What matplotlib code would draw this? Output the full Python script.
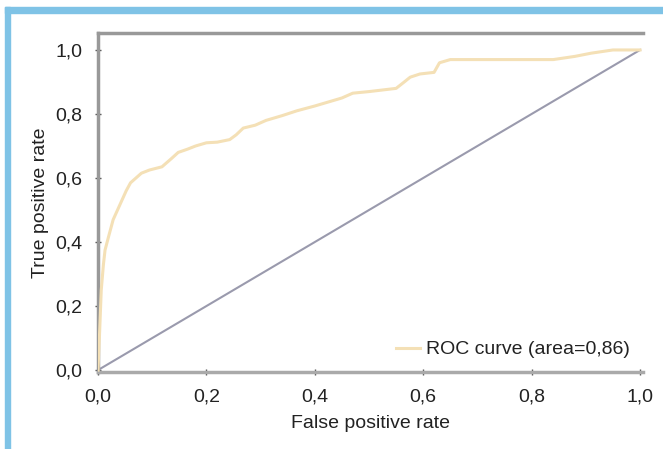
import matplotlib
matplotlib.use("Agg")
import matplotlib.pyplot as plt
from matplotlib import font_manager
from matplotlib.patches import Rectangle

fpr = [0.0, 0.003, 0.006, 0.010, 0.013, 0.020, 0.028, 0.036, 0.044, 0.052, 0.060,
       0.070, 0.080, 0.095, 0.118, 0.135, 0.148, 0.165, 0.180, 0.200, 0.220,
       0.243, 0.255, 0.268, 0.290, 0.310, 0.340, 0.367, 0.400, 0.430, 0.450,
       0.470, 0.500, 0.550, 0.565, 0.576, 0.594, 0.620, 0.630, 0.650, 0.700,
       0.750, 0.840, 0.880, 0.910, 0.950, 1.0]
tpr = [0.0, 0.12, 0.25, 0.33, 0.375, 0.42, 0.47, 0.50, 0.53, 0.56, 0.585,
       0.60, 0.615, 0.625, 0.635, 0.66, 0.68, 0.69, 0.70, 0.71, 0.712,
       0.72, 0.735, 0.756, 0.765, 0.78, 0.795, 0.81, 0.825, 0.84, 0.85,
       0.865, 0.87, 0.88, 0.90, 0.915, 0.925, 0.93, 0.96, 0.97, 0.97,
       0.97, 0.97, 0.98, 0.99, 1.0, 1.0]
diag = [0.0, 1.0]
xticks = [0.0, 0.2, 0.4, 0.6, 0.8, 1.0]
yticks = [0.0, 0.2, 0.4, 0.6, 0.8, 1.0]
tick_labels = ["0,0", "0,2", "0,4", "0,6", "0,8", "1,0"]
legend_label = "ROC curve (area=0,86)"

names = {f.name for f in font_manager.fontManager.ttflist}
fam = ["Liberation Sans Narrow"] if "Liberation Sans Narrow" in names else ["Liberation Sans"]
plt.rcParams['font.family'] = fam + ["DejaVu Sans"]

fig = plt.figure(figsize=(6.63, 4.49), dpi=100)
fig.patches.append(Rectangle((5/663, 0), 5/663, 1 - 7/449, transform=fig.transFigure,
                             color="#7fc3e6", zorder=0))
fig.patches.append(Rectangle((5/663, 1 - 13/449), 1, 6/449, transform=fig.transFigure,
                             color="#7fc3e6", zorder=0))

ax = fig.add_axes([98/663, (449-372)/449, (643-98)/663, (372-33)/449])
ax.plot(diag, diag, color="#9a9aad", lw=1.5, zorder=2)
ax.plot(fpr, tpr, color="#f4e0b6", lw=2.2, label=legend_label, zorder=3)
ax.set_xlim(0, 1.0055)
ax.set_ylim(-0.006, 1.053)
ax.set_xticks(xticks)
ax.set_xticklabels(tick_labels)
ax.set_yticks(yticks)
ax.set_yticklabels(tick_labels)
ax.tick_params(direction="inout", length=4, width=1, color="#555555",
               labelsize=14, labelcolor="#222222")
ax.tick_params(axis="x", pad=10)
ax.tick_params(axis="y", pad=9)
for s in ("left", "top"):
    ax.spines[s].set_color("#999999")
    ax.spines[s].set_linewidth(2.5)
ax.spines["bottom"].set_color("#aaaaaa")
ax.spines["bottom"].set_linewidth(2.5)
ax.spines["right"].set_visible(False)
ax.set_xlabel("False positive rate", fontsize=14, color="#222222", labelpad=7)
ax.set_ylabel("True positive rate", fontsize=14, color="#222222", labelpad=5)
leg = ax.legend(loc="lower right", frameon=False, fontsize=14, handlelength=1.2,
                handletextpad=0.3, borderaxespad=0.3)
for t in leg.get_texts():
    t.set_color("#222222")
fig.savefig("out.png", dpi=100)
